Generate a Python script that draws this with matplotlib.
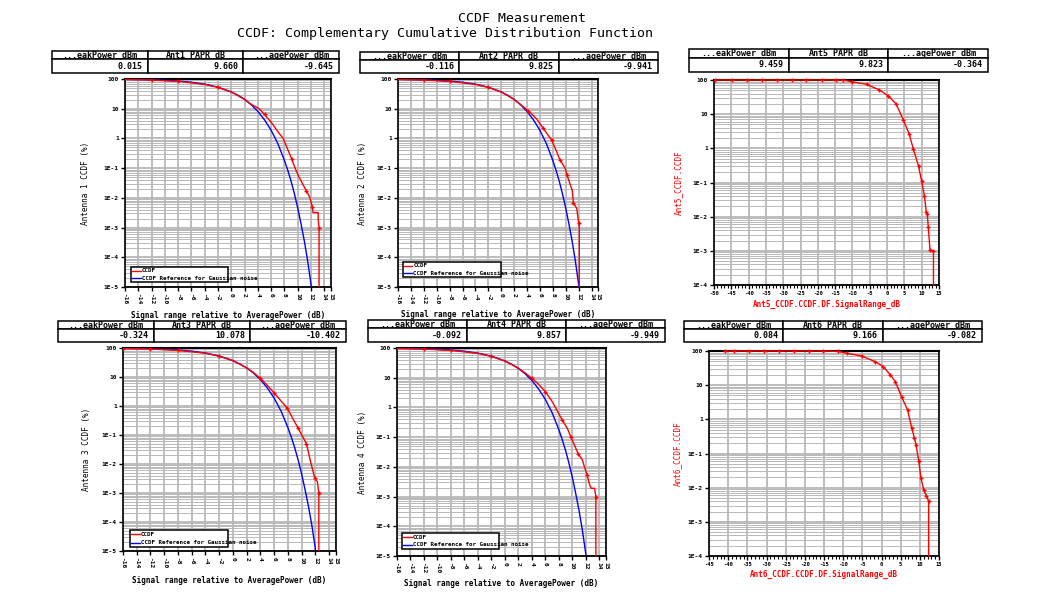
import numpy as np
import matplotlib
matplotlib.use('Agg')
import matplotlib.pyplot as plt
from matplotlib.patches import Rectangle
from matplotlib.ticker import LogLocator, NullFormatter, MultipleLocator

plt.rcParams['font.family'] = 'DejaVu Sans Mono'
plt.rcParams['font.weight'] = 'bold'

W, H = 1046, 616
GRID = '#b8b8b8'

# Gaussian noise reference (blue), shared by antennas 1-4
ref_db = [-16, -12, -8, -6, -4, -2, 0, 1, 2, 3, 4, 5, 6, 7, 8, 8.5, 9, 9.5, 10, 10.5, 11, 11.5, 12.05]
ref_pct = [97.5, 93.9, 85.4, 77.8, 67.2, 53.2, 36.8, 28.4, 20.5, 13.6, 8.1, 4.2, 1.87, 0.67, 0.18,
           0.084, 0.036, 0.0135, 4.5e-3, 1.3e-3, 3.4e-4, 7.3e-5, 1.0e-5]

ant1_db = [-16, -12, -8, -4, -2, 0, 2, 3, 4.2, 5, 6, 7, 7.8, 8.8, 9.1, 9.6, 10.1, 11.3, 11.8, 12.2,
           12.3, 13.07, 13.07, 13.2, 13.2]
ant1_pct = [96, 92, 83, 66, 52, 36.5, 20.8, 14.0, 10.0, 6.4, 3.5, 1.7, 1.0, 0.29, 0.2, 0.1, 0.055,
            0.017, 0.0105, 0.0049, 0.0032, 0.0032, 0.0019, 0.001, 1e-5]
ant1_marks = [1, 2, 4, 9, 14, 17, 19, 23]

ant2_db = [-16, -12, -8, -4, -2, 0, 2, 3, 4.2, 5.5, 6.5, 7.8, 8.5, 9.1, 9.9, 10.2, 11.0, 11.2, 11.7,
           12.0, 12.1, 12.1]
ant2_pct = [96, 92, 83, 66, 52, 36.5, 20.6, 13.8, 8.5, 4.5, 2.2, 0.89, 0.4, 0.19, 0.1, 0.058, 0.018,
            0.0065, 0.0045, 0.0014, 0.001, 1e-5]
ant2_marks = [1, 2, 4, 8, 10, 11, 13, 15, 17, 19]

ant3_db = [-16, -12, -8, -4, -2, 0, 2, 3, 3.94, 5, 6, 7, 7.9, 8.8, 9.5, 10.7, 11.3, 11.9, 12.3, 12.5, 12.5]
ant3_pct = [96, 92, 83, 66, 52, 36.5, 20.8, 14.2, 9.2, 5.2, 2.8, 1.5, 0.85, 0.34, 0.17, 0.05, 0.012,
            0.0033, 0.0024, 0.001, 1e-5]
ant3_marks = [0, 1, 2, 4, 8, 10, 12, 14, 15, 17, 19]

ant4_db = [-16, -12, -8, -4, -2, 0, 2, 3, 4, 5, 6, 7, 8.5, 9.3, 9.8, 10.3, 10.9, 11.5, 11.8, 12.2,
           12.5, 12.8, 13.3, 13.5, 13.5]
ant4_pct = [96, 92, 83, 66, 52, 36.5, 21, 14.5, 9.6, 6.0, 3.4, 1.6, 0.38, 0.19, 0.1, 0.055, 0.027,
            0.017, 0.01, 0.0054, 0.0028, 0.0019, 0.0019, 0.001, 1e-5]
ant4_marks = [1, 2, 4, 8, 10, 12, 14, 16, 19, 23]

ant5_db = [-49.7, -44.9, -40.4, -36.1, -31.7, -27.6, -23.4, -18.9, -14.9, -12.6, -10.2, -5.9, -2.2, 0.4,
           2.6, 4.7, 6.4, 7.6, 9.1, 10.0, 10.8, 11.3, 11.6, 11.9, 12.4, 13.4, 13.4]
ant5_pct = [100, 100, 100, 100, 100, 100, 100, 100, 100, 99.5, 89, 74.7, 51, 34, 20, 6.8, 2.6, 0.94,
            0.3, 0.107, 0.04, 0.014, 0.012, 0.0051, 0.00107, 0.001, 1e-4]

ant6_db = [-40.8, -38.5, -34.6, -30.6, -26.7, -22.8, -18.9, -15.2, -11.3, -9.0, -5.1, -1.7, 0.5, 2.3,
           3.6, 5.3, 6.8, 7.9, 8.6, 9.0, 9.7, 10.3, 11.0, 11.7, 12.3, 12.3]
ant6_pct = [100, 100, 100, 100, 100, 100, 100, 100, 97, 85.7, 71, 49, 35, 20, 12.6, 4.4, 1.9, 0.55,
            0.28, 0.18, 0.062, 0.019, 0.0087, 0.0058, 0.004, 1e-4]

range_ticks = [-16, -14, -12, -10, -8, -6, -4, -2, 0, 2, 4, 6, 8, 10, 12, 14, 15]
ant5_ticks = [-50, -45, -40, -35, -30, -25, -20, -15, -10, -5, 0, 5, 10, 15]
ant6_ticks = [-45, -40, -35, -30, -25, -20, -15, -10, -5, 0, 5, 10, 15]
decades5 = [100, 10, 1, 1e-1, 1e-2, 1e-3, 1e-4, 1e-5]
decade_labels5 = ['100', '10', '1', '1E-1', '1E-2', '1E-3', '1E-4', '1E-5']

table_headers = [['...eakPower_dBm', 'Ant1_PAPR_dB', '...agePower_dBm'],
                 ['...eakPower_dBm', 'Ant2_PAPR_dB', '...agePower_dBm'],
                 ['...eakPower_dBm', 'Ant5_PAPR_dB', '...agePower_dBm'],
                 ['...eakPower_dBm', 'Ant3_PAPR_dB', '...agePower_dBm'],
                 ['...eakPower_dBm', 'Ant4_PAPR_dB', '...agePower_dBm'],
                 ['...eakPower_dBm', 'Ant6_PAPR_dB', '...agePower_dBm']]
table_values = [['0.015', '9.660', '-9.645'],
                ['-0.116', '9.825', '-9.941'],
                ['9.459', '9.823', '-0.364'],
                ['-0.324', '10.078', '-10.402'],
                ['-0.092', '9.857', '-9.949'],
                ['0.084', '9.166', '-9.082']]


def add_px_axes(fig, left, top, right, bottom):
    return fig.add_axes([left / W, 1 - bottom / H, (right - left) / W, (bottom - top) / H])


def draw_table(fig, box, headers, values):
    ax = add_px_axes(fig, *box)
    ax.axis('off')
    tbl = ax.table(cellText=[values], colLabels=headers, cellLoc='right', colLoc='center',
                   bbox=[0, 0, 1, 1])
    tbl.auto_set_font_size(False)
    tbl.set_fontsize(6)
    for (r, c), cell in tbl.get_celld().items():
        cell.set_height(0.38 if r == 0 else 0.62)
        cell.set_linewidth(1.1)
        cell.PAD = 0.05
        cell.get_text().set_fontweight('bold')


def style_axes(ax, xlim, xticks, ylim, decades, decade_labels, rotate):
    ax.set_yscale('log')
    ax.set_xlim(*xlim)
    ax.set_ylim(*ylim)
    ax.set_xticks(xticks)
    if rotate:
        ax.set_xticklabels([str(t) for t in xticks], rotation=-90, fontsize=4.5)
    else:
        ax.set_xticklabels([str(t) for t in xticks], fontsize=4)
    ax.set_yticks(decades)
    ax.set_yticklabels(decade_labels, fontsize=4.5)
    ax.yaxis.set_minor_locator(LogLocator(base=10, subs=np.arange(2, 10), numticks=20))
    ax.yaxis.set_minor_formatter(NullFormatter())
    ax.tick_params(axis='y', which='minor', length=0)
    ax.tick_params(which='major', direction='out', length=3, width=1, pad=1.5, color='black')
    ax.grid(which='major', color=GRID, lw=1.3)
    ax.grid(which='minor', axis='y', color=GRID, lw=0.7)
    ax.set_axisbelow(True)
    ax.spines['top'].set_linewidth(1.5)
    ax.spines['bottom'].set_linewidth(1.3)
    for side in ['left', 'right']:
        ax.spines[side].set_linewidth(1.2)
        ax.spines[side].set_linestyle((0, (2, 1)))


def draw_legend(ax, x0, y0, w, h):
    ax.add_patch(Rectangle((x0, y0), w, h, transform=ax.transAxes, facecolor='white',
                           edgecolor='black', lw=1.1, zorder=5))
    entries = [('CCDF', 'red'), ('CCDF Reference for Gaussian noise', 'blue')]
    for i, (label, color) in enumerate(entries):
        yy = y0 + h * (0.74 - 0.48 * i)
        ax.plot([x0 + 0.006, x0 + 0.047], [yy, yy], transform=ax.transAxes, color=color,
                lw=1.0, zorder=6)
        ax.text(x0 + 0.052, yy, label, transform=ax.transAxes, fontsize=4.2, va='center',
                ha='left', zorder=6)


def antenna_panel(fig, box, db, pct, marks, ylabel, ylab_x, xlab_y, legend_box):
    ax = add_px_axes(fig, *box)
    ax.plot(ref_db, ref_pct, color='blue', lw=1.0, zorder=3)
    ax.plot(db, pct, color='red', lw=1.0, marker='+', markevery=marks, ms=3.5, mew=1.0, zorder=3)
    style_axes(ax, (-16, 15), range_ticks, (1e-5, 100), decades5, decade_labels5, True)
    ax.set_ylabel(ylabel, fontsize=5.5)
    ax.yaxis.set_label_coords(ylab_x, 0.5)
    ax.text(0.5, xlab_y, 'Signal range relative to AveragePower (dB)', transform=ax.transAxes,
            ha='center', va='center', fontsize=5.5)
    draw_legend(ax, *legend_box)
    return ax


def single_panel(fig, box, db, pct, xticks, name, ylab_x, xlab_y):
    ax = add_px_axes(fig, *box)
    ax.plot(db, pct, color='red', lw=1.0, marker='+', markevery=list(range(len(db) - 1)),
            ms=3.5, mew=1.0, zorder=3, clip_on=False)
    style_axes(ax, (xticks[0], xticks[-1]), xticks, (1e-4, 100), decades5[:-1], decade_labels5[:-1], False)
    ax.xaxis.set_minor_locator(MultipleLocator(1))
    ax.tick_params(axis='x', which='minor', direction='out', length=2, width=0.8)
    ax.set_ylabel(name + '_CCDF.CCDF', fontsize=5.5, color='red')
    ax.yaxis.set_label_coords(ylab_x, 0.5)
    ax.text(0.5, xlab_y, name + '_CCDF.CCDF.DF.SignalRange_dB', transform=ax.transAxes,
            ha='center', va='center', fontsize=5.5, color='red')
    return ax


fig = plt.figure(figsize=(W / 100, H / 100), dpi=100)

fig.text(522 / W, 1 - 19 / H, 'CCDF Measurement', ha='center', va='center', fontsize=9.5,
         fontweight='normal')
fig.text(445 / W, 1 - 33 / H, 'CCDF: Complementary Cumulative Distribution Function', ha='center',
         va='center', fontsize=9.5, fontweight='normal')

table_boxes = [(52, 51, 339, 73), (360, 52, 658, 73), (689, 49, 988, 72),
               (58, 321, 346, 342), (368, 320, 665, 342), (684, 321, 982, 342)]
for box, headers, values in zip(table_boxes, table_headers, table_values):
    draw_table(fig, box, headers, values)

antenna_panel(fig, (125, 79, 331, 287), ant1_db, ant1_pct, ant1_marks, 'Antenna 1 CCDF (%)',
              -0.17, -0.135, (0.029, 0.024, 0.47, 0.072))
antenna_panel(fig, (398, 79, 598, 287), ant2_db, ant2_pct, ant2_marks, 'Antenna 2 CCDF (%)',
              -0.155, -0.13, (0.025, 0.048, 0.49, 0.072))
antenna_panel(fig, (123, 348, 336, 551), ant3_db, ant3_pct, ant3_marks, 'Antenna 3 CCDF (%)',
              -0.15, -0.143, (0.033, 0.02, 0.46, 0.084))
antenna_panel(fig, (397, 348, 606, 556), ant4_db, ant4_pct, ant4_marks, 'Antenna 4 CCDF (%)',
              -0.144, -0.13, (0.024, 0.034, 0.464, 0.077))

single_panel(fig, (714, 80, 939, 285), ant5_db, ant5_pct, ant5_ticks, 'Ant5', -0.138, -0.093)
single_panel(fig, (709, 351, 939, 556), ant6_db, ant6_pct, ant6_ticks, 'Ant6', -0.117, -0.088)

fig.savefig('out.png', dpi=100)
